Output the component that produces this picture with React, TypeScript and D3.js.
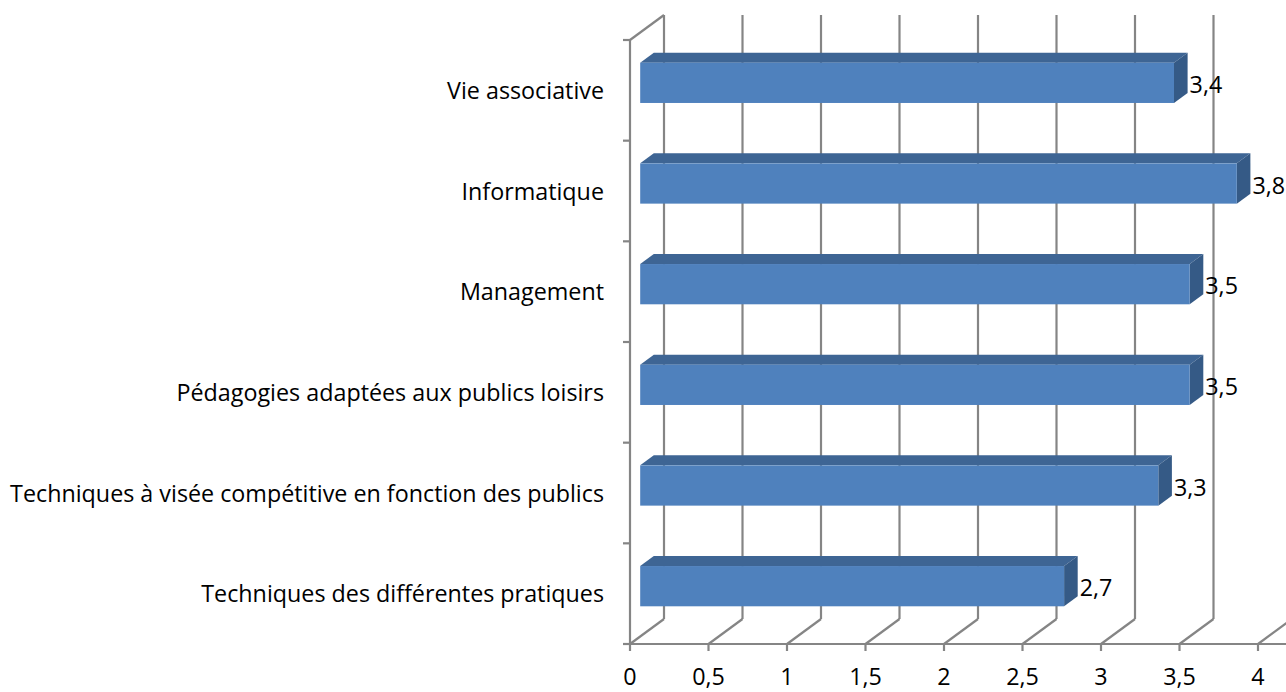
import React from "react";
import * as d3 from "d3";

const categories = [
  "Vie associative",
  "Informatique",
  "Management",
  "Pédagogies adaptées aux publics loisirs",
  "Techniques à visée compétitive en fonction des publics",
  "Techniques des différentes pratiques",
];
const values = [3.4, 3.8, 3.5, 3.5, 3.3, 2.7];
const ticks = [0, 0.5, 1, 1.5, 2, 2.5, 3, 3.5, 4];

const W = 1286;
const H = 692;
const DX = 34;
const DY = -25;
const FONT = "'Open Sans', sans-serif";
const FS = 23.3;
const GRID = "#858585";
const SW = 2.2;

const fmt = (v: number) => String(v).replace(".", ",");

export default function App() {
  const x = d3.scaleLinear().domain([0, 4]).range([630, 1258]);
  const y = d3.scaleBand<string>().domain(categories).range([40, 644]).padding(0);
  const x0 = x(0);
  const yBottom = 644;
  const yTopFront = 40;
  const step = y.step();
  const barH = step * 0.4;
  const fd = 0.3; // front depth fraction
  const bd = 0.4; // bar depth fraction

  return (
    <svg width={W} height={H} style={{ position: "absolute", left: 0, top: 0 }}>
      <rect x={0} y={0} width={W} height={H} fill="#fff" />
      {ticks.map((t) => (
        <line key={"bg" + t} x1={x(t) + DX} x2={x(t) + DX} y1={yBottom + DY} y2={yTopFront + DY}
          stroke={GRID} strokeWidth={SW} />
      ))}
      {ticks.map((t) => (
        <line key={"fl" + t} x1={x(t)} x2={x(t) + DX} y1={yBottom} y2={yBottom + DY}
          stroke={GRID} strokeWidth={SW} />
      ))}
      <line x1={x0} x2={x0} y1={yBottom} y2={yTopFront} stroke={GRID} strokeWidth={SW} />
      <line x1={x0} x2={x0 + DX} y1={yTopFront} y2={yTopFront + DY} stroke={GRID} strokeWidth={SW} />
      {d3.range(categories.length + 1).map((i) => (
        <line key={"lt" + i} x1={x0 - 7} x2={x0} y1={yTopFront + i * step} y2={yTopFront + i * step}
          stroke={GRID} strokeWidth={SW} />
      ))}
      <line x1={x0} x2={W} y1={yBottom} y2={yBottom} stroke={GRID} strokeWidth={SW} />
      {ticks.map((t) => (
        <line key={"bt" + t} x1={x(t)} x2={x(t)} y1={yBottom} y2={yBottom + 7} stroke={GRID} strokeWidth={SW} />
      ))}
      {ticks.map((t) => (
        <text key={"tl" + t} x={x(t)} y={685} textAnchor="middle" fontFamily={FONT} fontSize={FS} fill="#000">
          {fmt(t)}
        </text>
      ))}
      {categories.map((c, i) => {
        const v = values[i];
        const cy = (y(c) as number) + step / 2 + fd * DY;
        const yt = cy - barH / 2;
        const yb = cy + barH / 2;
        const xf0 = x0 + fd * DX;
        const xf1 = x(v) + fd * DX;
        const ddx = bd * DX;
        const ddy = bd * DY;
        return (
          <g key={c}>
            <polygon points={`${xf0},${yt} ${xf1},${yt} ${xf1 + ddx},${yt + ddy} ${xf0 + ddx},${yt + ddy}`}
              fill="#3e6594" />
            <polygon points={`${xf1},${yt} ${xf1 + ddx},${yt + ddy} ${xf1 + ddx},${yb + ddy} ${xf1},${yb}`}
              fill="#355a86" />
            <rect x={xf0} y={yt} width={xf1 - xf0} height={barH} fill="#4f81bd" />
            <text x={xf1 + ddx + 2} y={cy + 10} fontFamily={FONT} fontSize={FS} fill="#000">
              {fmt(v)}
            </text>
          </g>
        );
      })}
      {categories.map((c) => (
        <text key={"cl" + c} x={604} y={(y(c) as number) + step / 2 + 8.5} textAnchor="end"
          fontFamily={FONT} fontSize={FS} fill="#000">
          {c}
        </text>
      ))}
    </svg>
  );
}
